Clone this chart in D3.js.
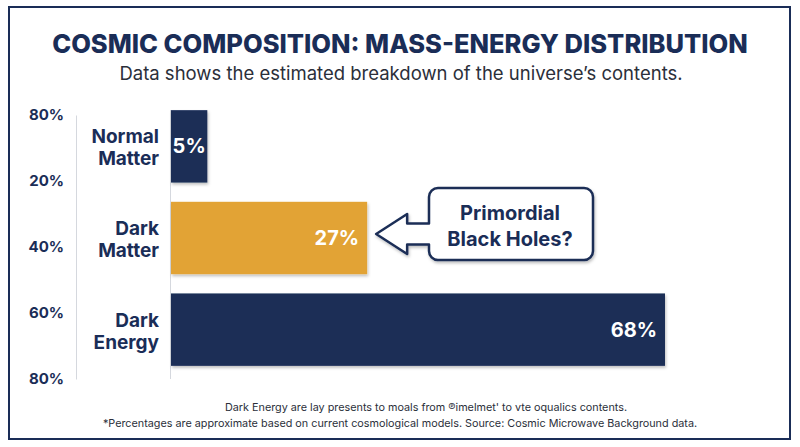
<!DOCTYPE html>
<html>
<head>
<meta charset="utf-8">
<script src="https://cdn.jsdelivr.net/npm/d3@7"></script>
<style>
  body { margin: 0; background: #fff; }
  svg { display: block; font-family: "Inter", "Open Sans", sans-serif; }
</style>
</head>
<body>
<svg id="chart" width="800" height="447"></svg>
<script>
// chart data
const categories = ["Normal Matter", "Dark Matter", "Dark Energy"];
const labelLines = [["Normal", "Matter"], ["Dark", "Matter"], ["Dark", "Energy"]];
const values = [5, 27, 68];
const barColors = ["#1a2d57", "#e2a334", "#1a2d57"];
const axisLabels = ["80%", "20%", "40%", "60%", "80%"];
const calloutLines = ["Primordial", "Black Holes?"];
const footnotes = [
  "Dark Energy are lay presents to moals from \u2117imelmet' to vte oqualics contents.",
  "*Percentages are approximate based on current cosmological models. Source: Cosmic Microwave Background data."
];

const navy = "#1a2d57";
const svg = d3.select("#chart");

// shadow filter
const defs = svg.append("defs");
const f = defs.append("filter").attr("id", "shadow").attr("x", "-10%").attr("y", "-10%").attr("width", "130%").attr("height", "140%");
f.append("feDropShadow").attr("dx", 1).attr("dy", 2).attr("stdDeviation", 1.5).attr("flood-color", "#000").attr("flood-opacity", 0.25);

// outer frame
svg.append("rect")
  .attr("x", 9).attr("y", 7).attr("width", 781).attr("height", 432)
  .attr("fill", "none").attr("stroke", navy).attr("stroke-width", 2);

// title + subtitle
svg.append("text")
  .attr("x", 400).attr("y", 53)
  .attr("text-anchor", "middle")
  .style("font-size", "25.5px").style("font-weight", 800).attr("fill", navy)
  .text("COSMIC COMPOSITION: MASS-ENERGY DISTRIBUTION");

svg.append("text")
  .attr("x", 401).attr("y", 80)
  .attr("text-anchor", "middle")
  .style("font-size", "18.5px").attr("fill", "#2b2f3a")
  .text("Data shows the estimated breakdown of the universe\u2019s contents.");

// scales
const x = d3.scaleLinear().domain([0, 68]).range([171, 665]);
const y = d3.scaleBand().domain(categories).range([101, 375]).paddingInner(0.21).paddingOuter(0.1);
const yAxisScale = d3.scalePoint().domain(d3.range(axisLabels.length)).range([115, 379]);

// left percent axis
const yAxis = svg.append("g")
  .attr("transform", "translate(76,0)")
  .call(d3.axisLeft(yAxisScale).tickSize(0).tickPadding(12).tickFormat(i => axisLabels[i]));
yAxis.select(".domain").attr("stroke", "#d5d8de").attr("stroke-width", 1);
yAxis.selectAll("text")
  .style("font-family", "Inter, sans-serif")
  .style("font-size", "15px").style("font-weight", 700).attr("fill", navy);

// baseline of bars
svg.append("line")
  .attr("x1", x(0) - 0.5).attr("x2", x(0) - 0.5)
  .attr("y1", 110).attr("y2", 379)
  .attr("stroke", "#d5d8de").attr("stroke-width", 1);

// bars
svg.append("g")
  .selectAll("rect")
  .data(values)
  .enter().append("rect")
  .attr("x", x(0))
  .attr("y", (d, i) => y(categories[i]))
  .attr("width", d => x(d) - x(0))
  .attr("height", y.bandwidth())
  .attr("fill", (d, i) => barColors[i])
  .attr("filter", "url(#shadow)");

// category labels
const catG = svg.append("g");
labelLines.forEach((lines, i) => {
  const cy = y(categories[i]) + y.bandwidth() / 2;
  const t = catG.append("text")
    .attr("x", 159).attr("y", cy)
    .attr("text-anchor", "end")
    .style("font-size", "19px").style("font-weight", 700).attr("fill", navy);
  lines.forEach((ln, j) => {
    t.append("tspan").attr("x", 159).attr("y", cy + (j === 0 ? -3 : 19)).text(ln);
  });
});

// value labels
svg.append("g")
  .selectAll("text")
  .data(values)
  .enter().append("text")
  .attr("x", d => d < 10 ? (x(0) + x(d)) / 2 : x(d) - 8)
  .attr("y", (d, i) => y(categories[i]) + y.bandwidth() / 2 + 7)
  .attr("text-anchor", d => d < 10 ? "middle" : "end")
  .style("font-size", "20px").style("font-weight", 700).attr("fill", "#fff")
  .text(d => d + "%");

// callout with arrow pointing to dark matter bar
const tipX = x(values[1]) + 9;
const tipY = y(categories[1]) + y.bandwidth() / 2 - 4;
const bx = 429, by = 188, bw = 164, bh = 72, r = 9;
const headX = tipX + 31, headH = 20, shaftH = 10.5;
const p = d3.path();
p.moveTo(bx + r, by);
p.lineTo(bx + bw - r, by);
p.arcTo(bx + bw, by, bx + bw, by + r, r);
p.lineTo(bx + bw, by + bh - r);
p.arcTo(bx + bw, by + bh, bx + bw - r, by + bh, r);
p.lineTo(bx + r, by + bh);
p.arcTo(bx, by + bh, bx, by + bh - r, r);
p.lineTo(bx, tipY + shaftH);
p.lineTo(headX, tipY + shaftH);
p.lineTo(headX, tipY + headH);
p.lineTo(tipX, tipY);
p.lineTo(headX, tipY - headH);
p.lineTo(headX, tipY - shaftH);
p.lineTo(bx, tipY - shaftH);
p.lineTo(bx, by + r);
p.arcTo(bx, by, bx + r, by, r);
p.closePath();
svg.append("path")
  .attr("d", p.toString())
  .attr("fill", "#fff").attr("stroke", navy).attr("stroke-width", 2.5)
  .attr("stroke-linejoin", "round")
  .attr("filter", "url(#shadow)");

const ct = svg.append("text")
  .attr("text-anchor", "middle")
  .style("font-size", "20px").style("font-weight", 700).attr("fill", navy);
calloutLines.forEach((ln, j) => {
  ct.append("tspan").attr("x", bx + bw / 2 - 1).attr("y", by + 32 + j * 26).text(ln);
});

// footnotes
svg.append("g")
  .selectAll("text")
  .data(footnotes)
  .enter().append("text")
  .attr("x", (d, i) => i === 0 ? 426 : 400)
  .attr("y", (d, i) => 411 + i * 16)
  .attr("text-anchor", "middle")
  .style("font-size", "10.8px").attr("fill", "#2b2f3a")
  .text(d => d);
</script>
</body>
</html>
